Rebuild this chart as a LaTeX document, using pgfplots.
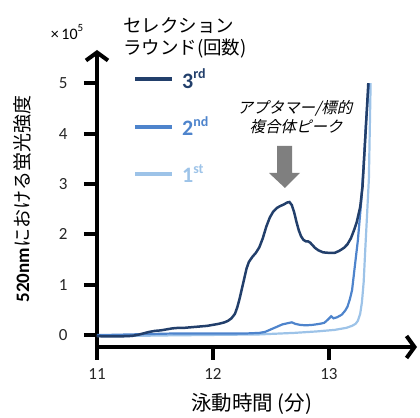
\documentclass[border=0pt]{standalone}
\usepackage{pgfplots}
\pgfplotsset{compat=1.18}
\usepackage{fontspec}
\setmainfont{Carlito}
\newfontfamily\jp{Noto Sans CJK JP}
\newfontfamily\jpit{Noto Sans CJK JP}[FakeSlant=0.22]
\usetikzlibrary{arrows.meta}
\definecolor{c3}{HTML}{223F6B}
\definecolor{c2}{HTML}{4E84CC}
\definecolor{c1}{HTML}{9DC3E8}
\definecolor{garrow}{HTML}{7F7F7F}
\begin{document}
\begin{tikzpicture}
\begin{axis}[
  scale only axis, width=320pt, height=297pt,
  xmin=11, xmax=13.76, ymin=-0.24, ymax=5.66,
  axis lines=left,
  axis line style={line width=4pt, -{Straight Barb[length=8pt,width=22pt]}},
  xtick={11,12,13}, ytick={0,1,2,3,4,5},
  xtick pos=left, ytick pos=left,
  tick align=outside, major tick length=13pt,
  tick style={line width=4pt, black},
  ticklabel style={font=\fontsize{17}{17}\selectfont, text=black!85},
  /pgf/number format/assume math mode=true,
  yticklabel style={xshift=-13pt},
  xticklabel style={yshift=-5pt},
  clip=false,
  xlabel={\jp 泳動時間 (分)},
  xlabel style={at={(axis description cs:0.484,-0.192)}, anchor=center, font=\fontsize{20.5}{20.5}\selectfont},
  ylabel={\textbf{520nm}{\jp における蛍光強度}},
  ylabel style={at={(axis description cs:-0.234,0.498)}, anchor=center, font=\fontsize{19}{19}\selectfont},
  legend style={at={(axis description cs:0.103,0.95)}, anchor=north west, draw=none, fill=none,
    row sep=23pt, column sep=6pt, font=\fontsize{22}{22}\selectfont},
  legend cell align=left,
  legend image code/.code={\draw[#1, line width=4pt] (0pt,0pt) -- (37pt,0pt);},
  reverse legend,
]
\addplot[c1, line width=2.2pt] coordinates {
(11.00,-0.02) (11.30,-0.02) (11.60,-0.01) (12.00,0.00) (12.40,0.01) (12.70,0.04)
(12.90,0.07) (13.05,0.10) (13.15,0.14) (13.20,0.18) (13.23,0.22) (13.25,0.28)
(13.27,0.42) (13.285,0.65) (13.30,1.05) (13.315,1.75) (13.33,2.42) (13.345,3.1) (13.36,5.0)
};
\addlegendentry{\textcolor{c1}{\bfseries 1\raisebox{0.42em}{\fontsize{14}{14}\selectfont st}}}
\addplot[c2, line width=2.2pt] coordinates {
(11.00,0.00) (11.10,0.00) (11.30,0.01) (11.50,0.02) (11.70,0.03) (11.90,0.03)
(12.10,0.03) (12.30,0.03) (12.40,0.04) (12.45,0.06) (12.49,0.10) (12.53,0.14)
(12.57,0.18) (12.60,0.21) (12.64,0.23) (12.68,0.25) (12.71,0.22) (12.75,0.20)
(12.80,0.19) (12.86,0.20) (12.92,0.22) (12.96,0.24) (12.99,0.30) (13.02,0.37)
(13.04,0.33) (13.07,0.35) (13.11,0.40) (13.14,0.48) (13.16,0.56) (13.18,0.70)
(13.20,0.89) (13.22,1.29) (13.25,1.88) (13.28,2.68) (13.30,3.4) (13.32,4.2) (13.345,5.0)
};
\addlegendentry{\textcolor{c2}{\bfseries 2\raisebox{0.42em}{\fontsize{14}{14}\selectfont nd}}}
\addplot[c3, line width=2.5pt] coordinates {
(11.00,-0.02) (11.05,-0.03) (11.10,-0.03) (11.20,-0.03) (11.30,-0.02) (11.35,0.00)
(11.40,0.03) (11.45,0.06) (11.50,0.08) (11.55,0.09) (11.60,0.11) (11.65,0.13)
(11.70,0.14) (11.75,0.14) (11.80,0.15) (11.85,0.16) (11.90,0.17) (11.95,0.18)
(12.00,0.20) (12.05,0.22) (12.10,0.25) (12.13,0.28) (12.16,0.33) (12.19,0.42)
(12.21,0.55) (12.23,0.72) (12.25,0.92) (12.27,1.12) (12.29,1.32) (12.31,1.45)
(12.34,1.55) (12.37,1.63) (12.40,1.74) (12.43,1.92) (12.46,2.15) (12.49,2.33)
(12.52,2.45) (12.55,2.52) (12.58,2.56) (12.61,2.59) (12.64,2.63) (12.66,2.64)
(12.68,2.58) (12.70,2.44) (12.72,2.25) (12.74,2.08) (12.76,1.96) (12.78,1.89)
(12.80,1.86) (12.82,1.86) (12.84,1.83) (12.86,1.78) (12.88,1.73) (12.91,1.68)
(12.95,1.64) (13.00,1.63) (13.05,1.63) (13.09,1.67) (13.13,1.73) (13.16,1.80)
(13.19,1.92) (13.22,2.10) (13.24,2.24) (13.27,2.54) (13.29,2.94) (13.31,3.75) (13.34,5.0)
};
\addlegendentry{\textcolor{c3}{\bfseries 3\raisebox{0.42em}{\fontsize{14}{14}\selectfont rd}}}
\coordinate (O) at (rel axis cs:0,0);
\end{axis}
\begin{scope}[shift={(O)}, x=1pt, y=1pt]
  \path (-97,-70) rectangle (323,347);
  \node[anchor=west, inner sep=0pt, font=\fontsize{18.5}{18.5}\selectfont\jp] at (26,321) {セレクション};
  \node[anchor=west, inner sep=0pt, font=\fontsize{18.5}{18.5}\selectfont\jp] at (26,298) {ラウンド(回数)};
  \node[anchor=center, inner sep=0pt, font=\fontsize{15.5}{15.5}\selectfont\jpit] at (198,239) {アプタマー/標的};
  \node[anchor=center, inner sep=0pt, font=\fontsize{15.5}{15.5}\selectfont\jpit] at (199,220) {複合体ピーク};
  \node[anchor=center, inner sep=0pt, font=\fontsize{16}{16}\selectfont] at (-30,315) {×\,10\raisebox{0.45em}{\fontsize{11}{11}\selectfont 5}};
  \fill[garrow] (180,201) -- (195,201) -- (195,174) -- (203,174) -- (188,159) -- (172,174) -- (180,174) -- cycle;
\end{scope}
\end{tikzpicture}
\end{document}
